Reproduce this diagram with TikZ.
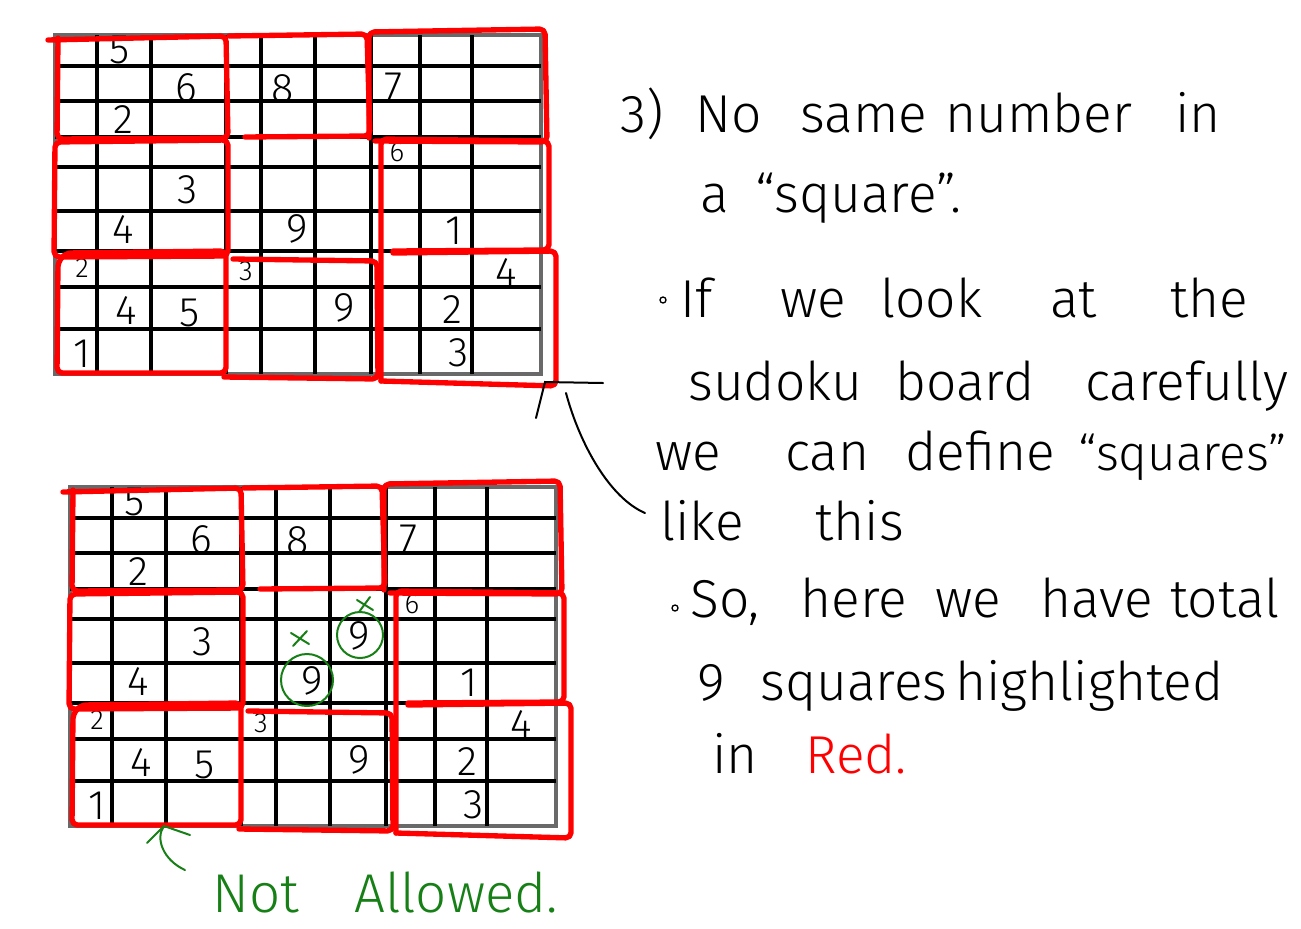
\documentclass[tikz,border=0pt]{standalone}
\usepackage{fontspec}
\newfontfamily\hand{Fira Sans Light}
\definecolor{penred}{RGB}{255,0,0}
\definecolor{pengreen}{RGB}{22,128,22}
\definecolor{framegray}{RGB}{105,105,105}
\tikzset{
  gridline/.style={line width=2.5pt, black},
  framebox/.style={line width=2.6pt, framegray},
  redbox/.style={line width=4pt, penred, rounded corners=4pt, line join=round, line cap=round},
  digit/.style={font=\fontsize{31}{31}\hand, inner sep=0pt},
  smalldigit/.style={font=\fontsize{21}{21}\hand, inner sep=0pt},
  note/.style={font=\fontsize{40}{40}\hand, anchor=base west, inner sep=0pt},
  greennote/.style={note, font=\fontsize{41}{41}\hand, text=pengreen},
  pen/.style={line width=1.5pt, black, line cap=round},
  greenpen/.style={line width=1.5pt, pengreen, line cap=round},
  sudokuboard/.pic={
    \draw[framebox] (55,35) rectangle (541,374);
    \foreach \vx in {97,151,226,261,315,371,420,472}
      \draw[gridline] (\vx,35) -- (\vx,374);
    \foreach \hy in {66,101,137,167,211,251,287,329}
      \draw[gridline] (55,\hy) -- (541,\hy);
    % digits
    \node[digit] (-a) at (120,50) {5};
    \node[digit] (-b) at (186,88) {6};
    \node[digit] (-c) at (123,120) {2};
    \node[digit] (-d) at (283,89) {8};
    \node[digit] (-e) at (394,87) {7};
    \node[smalldigit] (-f) at (397,152) {6};
    \node[digit] (-g) at (188,190) {3};
    \node[digit] (-h) at (123,230) {4};
    \node[digit] (-i) at (297,229) {9};
    \node[digit] (-j) at (454,231) {1};
    \node[smalldigit] (-k) at (82,268) {2};
    \node[smalldigit] (-l) at (246,271) {3};
    \node[digit] (-m) at (506,273) {4};
    \node[digit] (-n) at (126,311) {4};
    \node[digit] (-o) at (190,313) {5};
    \node[digit] (-p) at (344,308) {9};
    \node[digit] (-q) at (452,310) {2};
    \node[digit] (-r) at (82,354) {1};
    \node[digit] (-s) at (459,353) {3};
    % red squares
    \draw[redbox] (48,40) -- (226,36) -- (228,138) -- (57,139) -- (58,38);
    \draw[redbox] (229,36) -- (367,34) -- (370,136) -- (245,137);
    \draw[redbox] (369,138) -- (369,32) -- (545,29) -- (547,142) -- (375,141);
    \draw[redbox] (55,142) -- (228,140) -- (228,256) -- (54,257) -- cycle;
    \draw[redbox] (393,251) -- (549,250) -- (549,141) -- (381,139) -- (381,381);
    \draw[redbox] (66,253) -- (226,251) -- (226,373) -- (57,373) -- (58,262) -- cycle;
    \draw[redbox] (233,259) -- (377,261) -- (378,379) -- (224,377);
    \draw[redbox] (393,253) -- (556,251) -- (556,386) -- (381,381);
  }
}
\begin{document}
\begin{tikzpicture}[x=0.75pt,y=-0.75pt]
\useasboundingbox (0,0) rectangle (1301,928);
\fill[white] (0,0) rectangle (1301,928);

\pic (top) at (0,0) {sudokuboard};
\pic (bot) at (15,452) {sudokuboard};

% extra marks in lower board
\node[digit] (extra9) at (359,636) {9};
\draw[greenpen] (307,680) circle[radius=26];
\draw[greenpen] (360,635) circle[radius=23];
\draw[greenpen] (291,633) -- (309,644) (293,646) -- (307,631);
\draw[greenpen] (357,600) -- (373,610) (359,612) -- (370,597);

% Not Allowed
\node[greennote] (nnot) at (212,912) {Not};
\node[greennote] (nallowed) at (354,912) {Allowed.};
\coordinate (natip) at (164,826);
\coordinate (natail) at (185,870);
\draw[greenpen] (natail) .. controls (163,860) and (155,838) .. (natip);
\draw[greenpen] (147,843) -- (natip) -- (190,835);

% connector from text to board
\coordinate (lktail) at (645,513);
\coordinate (lktip) at (566,393);
\coordinate (brk) at (545,382);
\draw[pen] (lktail) .. controls (610,498) and (580,445) .. (lktip);
\draw[pen] (603,383) -- (brk) -- (536,418);

% notes
\node[note] (t3) at (620,132) {3)};
\node[note] (tNo) at (695,132) {No};
\node[note] (tsame) at (800,132) {same};
\node[note] (tnumber) at (945,132) {number};
\node[note] (tin1) at (1175,132) {in};
\node[note] (ta) at (700,212) {a};
\node[note] (tsquare) at (755,212) {“square”.};
\draw[pen, line width=1pt] (663,300) circle[radius=3];
\node[note] (tIf) at (680,317) {If};
\node[note] (twe1) at (780,317) {we};
\node[note] (tlook) at (880,317) {look};
\node[note] (tat) at (1050,317) {at};
\node[note] (tthe) at (1170,317) {the};
\node[note] (tsudoku) at (688,400) {sudoku};
\node[note] (tboard) at (895,400) {board};
\node[note] (tcarefully) at (1085,400) {carefully};
\node[note] (twe2) at (655,470) {we};
\node[note] (tcan) at (785,470) {can};
\node[note] (tdefine) at (905,470) {define};
\node[note, font=\fontsize{37}{37}\hand] (tsquares1) at (1078,470) {“squares”};
\node[note] (tlike) at (660,540) {like};
\node[note] (tthis) at (815,540) {this};
\draw[pen, line width=1pt] (675,608) circle[radius=3];
\node[note] (tSo) at (690,617) {So,};
\node[note] (there) at (800,617) {here};
\node[note] (twe3) at (935,617) {we};
\node[note] (thave) at (1040,617) {have};
\node[note] (ttotal) at (1170,617) {total};
\node[note] (tnine) at (697,700) {9};
\node[note] (tsquares2) at (760,700) {squares};
\node[note] (thigh) at (955,700) {highlighted};
\node[note] (tin2) at (712,773) {in};
\node[note, text=penred] (tRed) at (805,773) {Red.};
\end{tikzpicture}
\end{document}
